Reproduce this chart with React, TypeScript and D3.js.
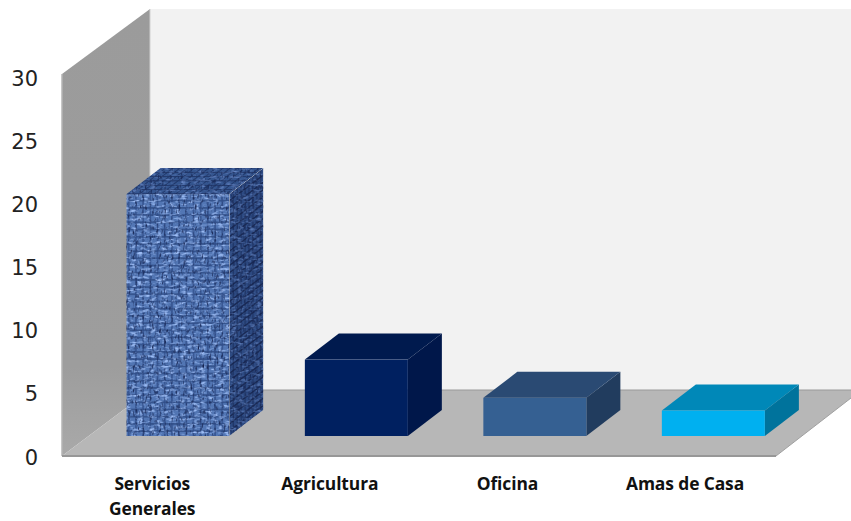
import React from "react";
import * as d3 from "d3";

const categories = ["Servicios Generales", "Agricultura", "Oficina", "Amas de Casa"];
const values = [19, 6, 3, 2];
const frontColors = ["url(#threads)", "#002060", "#356092", "#00b0f0"];
const topColors = ["url(#threadsTop)", "#001a4e", "#2a4a73", "#0088b8"];
const sideColors = ["url(#threadsSide)", "#00174a", "#213c5e", "#00739c"];
const tickValues = [0, 5, 10, 15, 20, 25, 30];

const WIDTH = 851;
const HEIGHT = 521;
const FLOOR_FRONT = 456;
const FLOOR_BACK = 390;
const WALL_LEFT = 62;
const WALL_BACK = 150;
const FLOOR_RIGHT = 776;
const DEPTH_X = 34;
const DEPTH_Y = 26;
const BAR_BASE_OFFSET = 20;
const BAR_SHIFT = 26.6;

const y = d3.scaleLinear().domain([0, 30]).range([FLOOR_FRONT, 74]);
const tickY = d3.scaleLinear().domain([0, 30]).range([457.5, 78.5]);
const x = d3
  .scaleBand<string>()
  .domain(categories)
  .range([WALL_LEFT, FLOOR_RIGHT])
  .paddingInner(0.423)
  .paddingOuter(0.2115);

const poly = (pts: [number, number][]) => pts.map((p) => p.join(",")).join(" ");

// Thread grid for the cloth fill; turbulence in the filter below roughens it.
function Threads({ id, base, line, transform }: { id: string; base: string; line: string; transform?: string }) {
  const step = 7.2;
  return (
    <pattern id={id} width={step} height={step} patternUnits="userSpaceOnUse" patternTransform={transform}>
      <rect width={step} height={step} fill={base} />
      <rect x={0} y={5.4} width={step} height={1.8} fill={line} opacity={0.8} />
      <rect x={5.4} y={0} width={1.8} height={step} fill={line} opacity={0.7} />
    </pattern>
  );
}

// Cloth filter: short light flecks and dark flecks over the thread grid, slightly softened.
function Cloth({ id, seed, light, lightGain, darkGain }: { id: string; seed: number; light: string; lightGain: number; darkGain: number }) {
  const c = d3.rgb(light);
  return (
    <filter id={id} x="0" y="0" width="100%" height="100%" colorInterpolationFilters="sRGB">
      <feTurbulence type="fractalNoise" baseFrequency="0.16 0.38" numOctaves={2} seed={seed} result="weft" />
      <feColorMatrix
        in="weft"
        type="matrix"
        values={`0 0 0 0 ${c.r / 255}  0 0 0 0 ${c.g / 255}  0 0 0 0 ${c.b / 255}  ${lightGain} 0 0 0 ${-lightGain * 0.49}`}
        result="weftInk"
      />
      <feTurbulence type="fractalNoise" baseFrequency="0.42 0.2" numOctaves={2} seed={seed + 5} result="warp" />
      <feColorMatrix
        in="warp"
        type="matrix"
        values={`0 0 0 0 0.09  0 0 0 0 0.15  0 0 0 0 0.33  ${darkGain} 0 0 0 ${-darkGain * 0.54}`}
        result="warpInk"
      />
      <feMerge result="cloth">
        <feMergeNode in="SourceGraphic" />
        <feMergeNode in="weftInk" />
        <feMergeNode in="warpInk" />
      </feMerge>
      <feComposite in="cloth" in2="SourceAlpha" operator="in" result="clipped" />
      <feGaussianBlur in="clipped" stdDeviation="0.55" />
    </filter>
  );
}

export default function App() {
  const baseY = FLOOR_FRONT - BAR_BASE_OFFSET;
  const valueHeight = (v: number) => FLOOR_FRONT - y(v);

  return (
    <svg
      width={WIDTH}
      height={HEIGHT}
      viewBox={`0 0 ${WIDTH} ${HEIGHT}`}
      style={{ position: "absolute", left: 0, top: 0, background: "#fff" }}
    >
      <defs>
        <Threads id="threads" base="#5276b4" line="#2f4c86" />
        <Threads id="threadsSide" base="#2d4a82" line="#16244e" transform="skewY(-37) scale(0.55 1)" />
        <Threads id="threadsTop" base="#34558f" line="#203565" transform="skewX(-52) scale(1 0.6)" />
        <Cloth id="clothFront" seed={4} light="#9cbcf4" lightGain={3.2} darkGain={3} />
        <Cloth id="clothSide" seed={9} light="#5f7fbc" lightGain={2.6} darkGain={3} />
        <Cloth id="clothTop" seed={13} light="#6c8ccb" lightGain={2.4} darkGain={2.6} />
        <linearGradient id="leftWall" x1="0" y1="0" x2="0" y2="1">
          <stop offset="0" stopColor="#9b9b9b" />
          <stop offset="0.8" stopColor="#9d9d9d" />
          <stop offset="1" stopColor="#a9a9a9" />
        </linearGradient>
      </defs>

      {/* chart walls and floor */}
      <rect x={WALL_BACK} y={9} width={WIDTH - WALL_BACK} height={FLOOR_BACK - 9} fill="#f2f2f2" />
      <polygon
        points={poly([
          [WALL_LEFT, y(30)],
          [WALL_BACK, 9],
          [WALL_BACK, FLOOR_BACK],
          [WALL_LEFT, FLOOR_FRONT],
        ])}
        fill="url(#leftWall)"
      />
      <line x1={WALL_LEFT} x2={WALL_LEFT} y1={y(30)} y2={FLOOR_FRONT} stroke="#b4b4b4" strokeWidth={1.5} />
      <line x1={WALL_BACK} x2={WALL_BACK} y1={9} y2={FLOOR_BACK} stroke="#cfcfcf" strokeWidth={1} />
      <polygon
        points={poly([
          [WALL_LEFT, FLOOR_FRONT],
          [WALL_BACK, FLOOR_BACK],
          [WIDTH, FLOOR_BACK],
          [WIDTH, 398],
          [FLOOR_RIGHT, FLOOR_FRONT],
        ])}
        fill="#b7b7b7"
      />
      <line x1={WALL_BACK} x2={WIDTH} y1={FLOOR_BACK} y2={FLOOR_BACK} stroke="#9a9a9a" strokeWidth={1} />
      <line x1={WALL_LEFT} x2={FLOOR_RIGHT} y1={FLOOR_FRONT} y2={FLOOR_FRONT} stroke="#979797" strokeWidth={2} />
      <line x1={FLOOR_RIGHT} x2={WIDTH} y1={FLOOR_FRONT} y2={398} stroke="#a0a0a0" strokeWidth={1} />

      {/* value axis labels */}
      {tickValues.map((t) => (
        <text
          key={t}
          x={38}
          y={tickY(t)}
          textAnchor="end"
          dominantBaseline="central"
          fontFamily="'DejaVu Sans', sans-serif"
          fontSize={21}
          fill="#222"
        >
          {t}
        </text>
      ))}

      {/* 3D bars */}
      {categories.map((c, i) => {
        const x0 = (x(c) as number) + BAR_SHIFT;
        const w = x.bandwidth();
        const h = valueHeight(values[i]);
        const topY = baseY - h;
        const textured = i === 0;
        return (
          <g key={c}>
            <polygon
              points={poly([
                [x0 + w, topY],
                [x0 + w + DEPTH_X, topY - DEPTH_Y],
                [x0 + w + DEPTH_X, baseY - DEPTH_Y],
                [x0 + w, baseY],
              ])}
              fill={sideColors[i]}
              filter={textured ? "url(#clothSide)" : undefined}
            />
            <polygon
              points={poly([
                [x0, topY],
                [x0 + DEPTH_X, topY - DEPTH_Y],
                [x0 + w + DEPTH_X, topY - DEPTH_Y],
                [x0 + w, topY],
              ])}
              fill={topColors[i]}
              filter={textured ? "url(#clothTop)" : undefined}
            />
            <rect x={x0} y={topY} width={w} height={h} fill={frontColors[i]} filter={textured ? "url(#clothFront)" : undefined} />
          </g>
        );
      })}

      {/* category labels */}
      {categories.map((c, i) => {
        const cx = (x(c) as number) + x.bandwidth() / 2;
        const lines = c === "Servicios Generales" ? c.split(" ") : [c];
        return (
          <text
            key={c}
            textAnchor="middle"
            fontFamily="'Open Sans', sans-serif"
            fontWeight={700}
            fontSize={17.4}
            letterSpacing={-0.1}
            fill="#111"
          >
            {lines.map((line, k) => (
              <tspan key={line} x={cx + 1 - i * 0.9} y={490 + k * 25}>
                {line}
              </tspan>
            ))}
          </text>
        );
      })}
    </svg>
  );
}
